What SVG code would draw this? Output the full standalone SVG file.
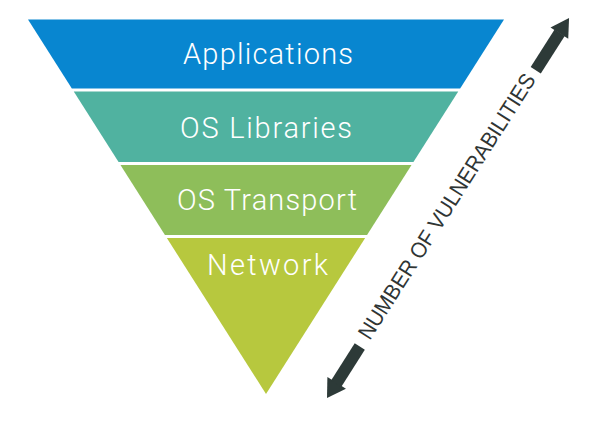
<svg xmlns="http://www.w3.org/2000/svg" width="600" height="422" viewBox="0 0 600 422">
  <style>
    .lbl { font-family: Roboto, "Liberation Sans", Arial, sans-serif; font-weight: 300; font-size: 29px; fill: #ffffff; text-anchor: middle; }
    .axis { font-family: "Liberation Sans", Arial, sans-serif; font-size: 22px; fill: #2f3534; text-anchor: middle; }
    .arrow { fill: #2d3a38; }
  </style>
  <rect width="600" height="422" fill="#ffffff"/>
  <g id="applications">
    <polygon points="28,19.5 504,19.5 460.15,88.5 71.85,88.5" fill="#0886d0"/>
    <text class="lbl" x="268" y="64" textLength="170" lengthAdjust="spacing">Applications</text>
  </g>
  <g id="os-libraries">
    <polygon points="73.76,91.5 458.24,91.5 413.44,162 118.56,162" fill="#50b2a0"/>
    <text class="lbl" x="266" y="137.5" textLength="172" lengthAdjust="spacing">OS Libraries</text>
  </g>
  <g id="os-transport">
    <polygon points="120.47,165 411.53,165 367.05,235 164.95,235" fill="#8ebe5a"/>
    <text class="lbl" x="267" y="209.5" textLength="180" lengthAdjust="spacing">OS Transport</text>
  </g>
  <g id="network">
    <polygon points="166.86,238 365.14,238 266,394" fill="#b7c83e"/>
    <text class="lbl" x="267.5" y="274.5" textLength="121" lengthAdjust="spacing">Network</text>
  </g>
  <g id="connectors">
    <g transform="translate(327,398) rotate(-57.5)">
      <polygon class="arrow" points="0,0 18,-11 18,11"/>
      <rect class="arrow" x="17" y="-6" width="44" height="12"/>
      <rect class="arrow" x="388.5" y="-6" width="44.5" height="12"/>
      <polygon class="arrow" points="450.5,0 432.5,-10.5 432.5,10.5"/>
      <text class="axis" x="226" y="5.5" textLength="310" lengthAdjust="spacingAndGlyphs">NUMBER OF VULNERABILITIES</text>
    </g>
  </g>
</svg>
